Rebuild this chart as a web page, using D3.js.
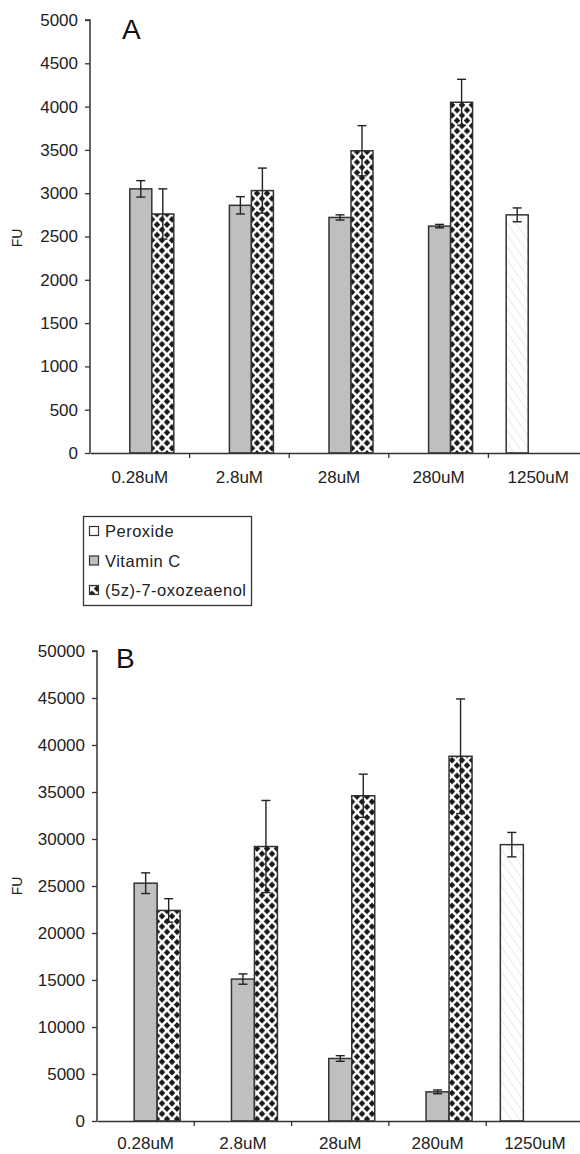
<!DOCTYPE html>
<html><head><meta charset="utf-8">
<script src="https://cdn.jsdelivr.net/npm/d3@7"></script>
<style>
html,body{margin:0;padding:0;background:#fff;}
svg{display:block;font-family:"Liberation Sans",Arial,sans-serif;}
</style></head>
<body>
<svg id="chart" width="580" height="1154"></svg>
<script>
// ---- data ----
const categories = ["0.28uM","2.8uM","28uM","280uM","1250uM"];
const seriesNames = ["Peroxide","Vitamin C","(5z)-7-oxozeaenol"];
// Panel A
const peroxideA = [null,null,null,null,2750];
const peroxideAErr = [null,null,null,null,80];
const vitaminCA = [3050,2860,2720,2620,null];
const vitaminCAErr = [95,100,30,20,null];
const oxoA = [2760,3030,3490,4050,null];
const oxoAErr = [290,260,290,265,null];
const ticksA = [0,500,1000,1500,2000,2500,3000,3500,4000,4500,5000];
// Panel B
const peroxideB = [null,null,null,null,29400];
const peroxideBErr = [null,null,null,null,1300];
const vitaminCB = [25300,15100,6650,3100,null];
const vitaminCBErr = [1100,550,300,200,null];
const oxoB = [22400,29200,34600,38800,null];
const oxoBErr = [1250,4900,2300,6100,null];
const ticksB = [0,5000,10000,15000,20000,25000,30000,35000,40000,45000,50000];

const svg = d3.select("#chart");
const defs = svg.append("defs");

// diamond pattern
const PW = 10, PH = 10.4;
const pat = defs.append("pattern").attr("id","diam").attr("patternUnits","userSpaceOnUse")
  .attr("width",PW).attr("height",PH).attr("x",2).attr("y",1);
pat.append("rect").attr("width",PW).attr("height",PH).attr("fill","#fff");
const dpts = [[0,0],[PW,0],[0,PH],[PW,PH],[PW/2,PH/2]];
dpts.forEach(([cx,cy])=>{
  const rx=3.3, ry=3.3;
  pat.append("path").attr("d",`M${cx},${cy-ry}L${cx+rx},${cy}L${cx},${cy+ry}L${cx-rx},${cy}Z`).attr("fill","#1a1a1a");
});
// hatch for peroxide
const hat = defs.append("pattern").attr("id","hatch").attr("patternUnits","userSpaceOnUse")
  .attr("width",7).attr("height",7).attr("patternTransform","rotate(-35)");
hat.append("rect").attr("width",7).attr("height",7).attr("fill","#fff");
hat.append("line").attr("x1",0).attr("y1",0).attr("x2",0).attr("y2",7).attr("stroke","#e2e2e2").attr("stroke-width",1.5);

const fills = ["url(#hatch)","#bfbfbf","url(#diam)"];
const stroke = "#333";
const FONT = "Liberation Sans, Arial, sans-serif";

function panel(cfg){
  const g = svg.append("g");
  const x = d3.scaleBand().domain(categories).range([cfg.x0, cfg.x0 + cfg.step*categories.length]).padding(0);
  const bw = cfg.barW;
  const inner = d3.scaleBand().domain(seriesNames)
     .range([(x.bandwidth()-3*bw)/2 + cfg.shift, (x.bandwidth()+3*bw)/2 + cfg.shift]).padding(0);
  const y = d3.scaleLinear().domain([cfg.ticks[0], cfg.ticks[cfg.ticks.length-1]]).range([cfg.y0, cfg.y1]);

  const seriesVals = [cfg.per, cfg.vit, cfg.oxo];
  const seriesErr = [cfg.perE, cfg.vitE, cfg.oxoE];
  seriesNames.forEach((s,si)=>{
    categories.forEach((c,ci)=>{
      const v = seriesVals[si][ci];
      if(v==null) return;
      const bx = x(c)+inner(s);
      g.append("rect").attr("x",bx).attr("y",y(v)).attr("width",inner.bandwidth())
        .attr("height",y(0)-y(v)).attr("fill",fills[si]).attr("stroke",stroke).attr("stroke-width",1.5);
    });
  });
  // error bars
  seriesNames.forEach((s,si)=>{
    categories.forEach((c,ci)=>{
      const v = seriesVals[si][ci], e = seriesErr[si][ci];
      if(v==null) return;
      const cx = x(c)+inner(s)+inner.bandwidth()/2;
      const cw = 4.5;
      g.append("line").attr("x1",cx).attr("x2",cx).attr("y1",y(v+e)).attr("y2",y(v-e)).attr("stroke","#222").attr("stroke-width",1.4);
      [v+e,v-e].forEach(t=>g.append("line").attr("x1",cx-cw).attr("x2",cx+cw).attr("y1",y(t)).attr("y2",y(t)).attr("stroke","#222").attr("stroke-width",1.4));
    });
  });
  // y axis
  const ya = d3.axisLeft(y).tickValues(cfg.ticks).tickSize(5).tickPadding(7).tickFormat(d3.format("d"));
  const yg = g.append("g").attr("transform",`translate(${cfg.x0},0)`).call(ya);
  yg.select(".domain").attr("stroke","#333").attr("stroke-width",1.5).attr("d",`M-5,${cfg.y1}H0V${cfg.y0}`);
  yg.selectAll(".tick line").attr("stroke","#333").attr("stroke-width",1.3);
  yg.selectAll(".tick text").attr("font-size",17).attr("fill","#222").attr("font-family",FONT);
  // x axis
  const xa = d3.axisBottom(x).tickSize(0).tickPadding(cfg.xpad);
  const xg = g.append("g").attr("transform",`translate(0,${cfg.y0})`).call(xa);
  xg.select(".domain").attr("stroke","#333").attr("stroke-width",1.5);
  xg.selectAll(".tick text").attr("font-size",17).attr("fill","#222").attr("font-family",FONT);
  // boundary ticks
  g.selectAll(".bt").data(categories.slice(1)).enter().append("line")
    .attr("x1",d=>x(d)).attr("x2",d=>x(d)).attr("y1",cfg.y0).attr("y2",cfg.y0+5)
    .attr("stroke","#333").attr("stroke-width",1.3);
  // panel letter
  g.append("text").attr("x",cfg.letterX).attr("y",cfg.letterY).attr("font-size",28).attr("fill","#111").text(cfg.letter);
  // FU
  g.append("text").attr("transform",`translate(22,${cfg.fuY}) rotate(-90)`).attr("text-anchor","middle")
    .attr("font-size",14).attr("fill","#222").text("FU");
}

panel({x0:90, step:99.6, barW:22, shift:1, y0:453, y1:20, ticks:ticksA, xpad:18,
  per:peroxideA, perE:peroxideAErr, vit:vitaminCA, vitE:vitaminCAErr, oxo:oxoA, oxoE:oxoAErr,
  letter:"A", letterX:122, letterY:39, fuY:238});
panel({x0:97, step:97.3, barW:23, shift:0, y0:1121, y1:651, ticks:ticksB, xpad:16,
  per:peroxideB, perE:peroxideBErr, vit:vitaminCB, vitE:vitaminCBErr, oxo:oxoB, oxoE:oxoBErr,
  letter:"B", letterX:116, letterY:668, fuY:886});

// legend
const lg = svg.append("g");
lg.append("rect").attr("x",83.5).attr("y",516.5).attr("width",168).attr("height",89)
  .attr("fill","#fff").attr("stroke","#333").attr("stroke-width",1.3);
const legFills = ["#fff","#bfbfbf","url(#diam)"];
seriesNames.forEach((s,i)=>{
  const yy = 531 + i*29.5;
  lg.append("rect").attr("x",89.5).attr("y",yy-4.5).attr("width",9).attr("height",9)
    .attr("fill",legFills[i]).attr("stroke","#333").attr("stroke-width",1.2);
  lg.append("text").attr("x",105).attr("y",yy+6).attr("font-size",16.5).attr("fill","#222")
    .attr("letter-spacing",0.5).text(s);
});
</script>
</body></html>
